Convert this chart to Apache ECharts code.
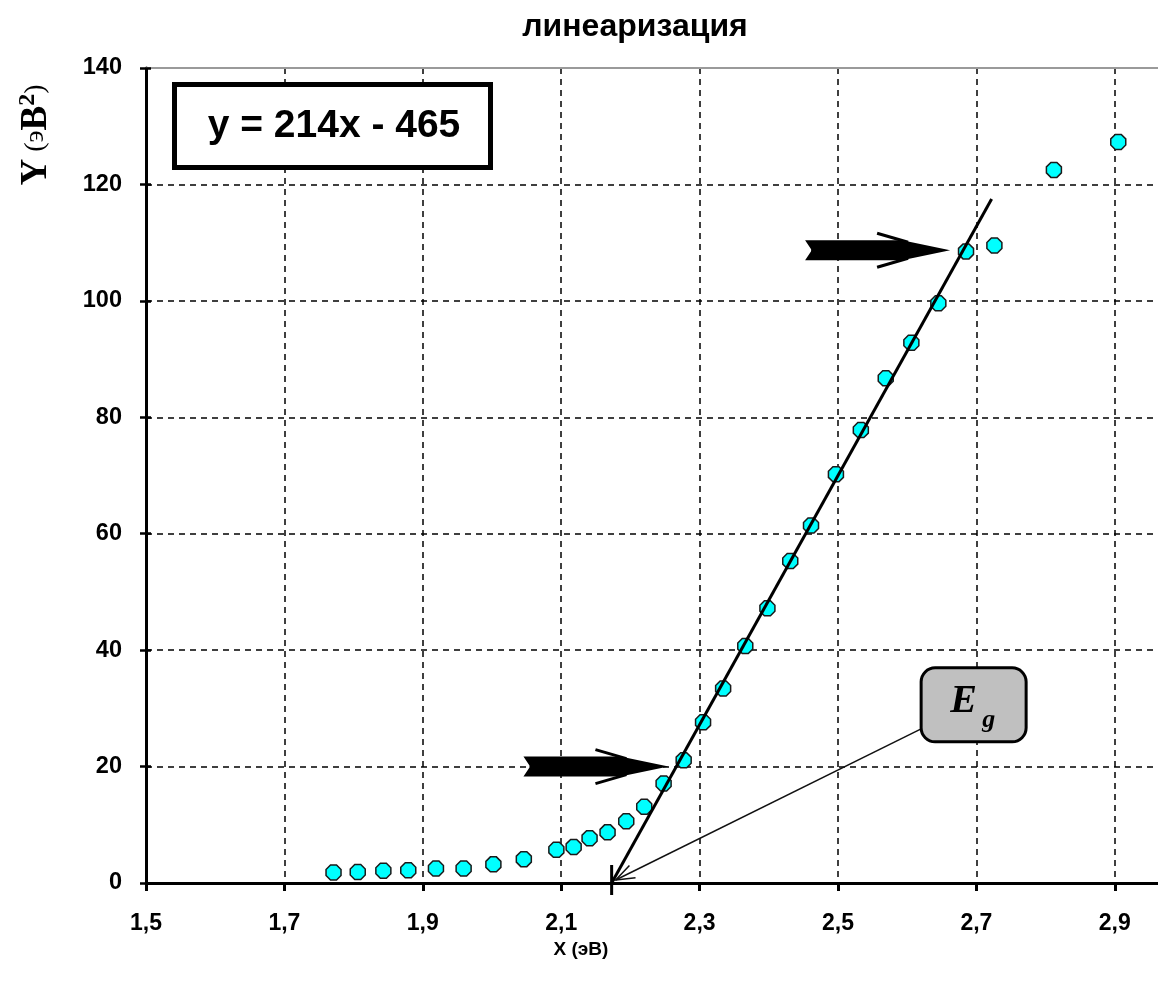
<!DOCTYPE html>
<html>
<head>
<meta charset="utf-8">
<script src="https://cdn.jsdelivr.net/npm/echarts@6/dist/echarts.min.js"></script>
<style>
  html, body { margin: 0; padding: 0; background: #ffffff; }
  #chart { width: 1158px; height: 981px; }
</style>
</head>
<body>
<div id="chart"></div>
<script>
// Photon energy X (eV) and linearised absorption Y (eV^2)
const energyX = [1.771, 1.806, 1.843, 1.879, 1.919, 1.959, 2.002, 2.046, 2.093, 2.118,
                 2.141, 2.167, 2.194, 2.220, 2.248, 2.277, 2.305, 2.334, 2.366, 2.398,
                 2.431, 2.461, 2.497, 2.533, 2.569, 2.606, 2.645, 2.685, 2.726, 2.812, 2.905];
const valuesY = [1.8, 1.9, 2.1, 2.2, 2.5, 2.5, 3.2, 4.1, 5.7, 6.2,
                 7.7, 8.7, 10.6, 13.1, 17.1, 21.1, 27.6, 33.4, 40.7, 47.2,
                 55.3, 61.4, 70.2, 77.8, 86.7, 92.8, 99.6, 108.5, 109.5, 122.5, 127.3];

// Linear fit y = 214x - 465 drawn over the straight part
const fitSlope = 214;
const fitIntercept = -465;
const fitEndX = 2.722;

// Axis ranges and tick spacing
const xRange = [1.5, 3.0];
const xStep = 0.2;
const yRange = [0, 140];
const yStep = 20;

// Fit range bounds marked by the block arrows (tips)
const upperArrowTip = [2.662, 108.7];
const lowerArrowTip = [2.255, 20.0];

// Eg label box centre (data coordinates)
const egBoxCentre = [2.696, 30.6];

const titleText = 'линеаризация';
const equationText = 'y = 214x - 465';
const xTitle = 'X (эВ)';

const gapEnergy = -fitIntercept / fitSlope;
const fitPoints = [[gapEnergy, 0], [fitEndX, fitSlope * fitEndX + fitIntercept]];
const scatterData = energyX.map((x, i) => [x, valuesY[i]]);

const chart = echarts.init(document.getElementById('chart'), null, { renderer: 'canvas' });

const sans = '"Liberation Sans", Arial, sans-serif';
const serif = '"Liberation Serif", "Times New Roman", serif';
const comma = v => v.toFixed(1).replace('.', ',');

chart.setOption({
  animation: false,
  backgroundColor: '#ffffff',
  grid: { left: 146, right: -26, top: 68, bottom: 98, outerBoundsMode: 'none', containLabel: false },
  xAxis: [{
    type: 'value', min: xRange[0], max: xRange[1], interval: xStep,
    axisLine: { lineStyle: { color: '#000', width: 3 } },
    axisTick: { length: 8, lineStyle: { color: '#000', width: 3 } },
    axisLabel: {
      formatter: v => (v > 2.95 ? '' : comma(v)),
      color: '#000', fontFamily: sans, fontWeight: 'bold', fontSize: 23, margin: 29
    },
    splitLine: { show: true, showMinLine: false, lineStyle: { color: '#000', width: 1.5, type: [6, 5] } }
  }, {
    type: 'value', position: 'top', min: xRange[0], max: xRange[1], interval: xStep,
    axisLine: { onZero: false, lineStyle: { color: '#9a9a9a', width: 2 } },
    axisTick: { show: false }, axisLabel: { show: false }, splitLine: { show: false }
  }],
  yAxis: [{
    type: 'value', min: yRange[0], max: yRange[1], interval: yStep,
    axisLine: { show: true, onZero: false, lineStyle: { color: '#000', width: 3 } },
    axisTick: { show: true, length: 6, lineStyle: { color: '#000', width: 2.5 } },
    axisLabel: { color: '#000', fontFamily: sans, fontWeight: 'bold', fontSize: 23.5, margin: 24 },
    splitLine: { show: true, showMinLine: false, showMaxLine: false,
                 lineStyle: { color: '#000', width: 1.5, type: [6, 5] } }
  }, {
    type: 'value', position: 'left', min: yRange[0], max: yRange[1], interval: yStep,
    axisLine: { show: false },
    axisTick: { show: true, inside: true, length: 5, lineStyle: { color: '#000', width: 2.5 } },
    axisLabel: { show: false }, splitLine: { show: false }
  }],
  series: [{
    type: 'scatter',
    data: scatterData,
    symbol: 'path://M3,0 L7,0 L10,3 L10,7 L7,10 L3,10 L0,7 L0,3 Z',
    symbolSize: 15,
    itemStyle: { color: '#00ffff', borderColor: '#1a1a1a', borderWidth: 1.5, opacity: 1 },
    z: 2
  }, {
    type: 'line',
    data: fitPoints,
    symbol: 'none',
    lineStyle: { color: '#000', width: 3 },
    z: 3
  }]
});

const toPx = p => chart.convertToPixel({ xAxisIndex: 0, yAxisIndex: 0 }, p);

function blockArrow(tip) {
  const [tx, ty] = toPx(tip);
  const tail = tx - 145;
  return [{
    type: 'polygon', z: 10,
    shape: { points: [[tail, ty - 10], [tx - 48, ty - 10], [tx, ty], [tx - 48, ty + 10],
                      [tail, ty + 10], [tail + 6, ty + 1], [tail + 6, ty - 1]] },
    style: { fill: '#000' }
  }, {
    type: 'polyline', z: 10,
    shape: { points: [[tx - 73, ty - 17], [tx - 42, ty - 8]] },
    style: { stroke: '#000', lineWidth: 3, fill: null }
  }, {
    type: 'polyline', z: 10,
    shape: { points: [[tx - 73, ty + 17], [tx - 42, ty + 8]] },
    style: { stroke: '#000', lineWidth: 3, fill: null }
  }];
}

const gapPx = toPx([gapEnergy, 0]);
const boxC = toPx(egBoxCentre);
const boxW = 105, boxH = 74;
const boxCorner = [boxC[0] - boxW / 2, boxC[1] + 24];
const tipPt = [gapPx[0] + 4, gapPx[1] - 3];
const ang = Math.atan2(boxCorner[1] - tipPt[1], boxCorner[0] - tipPt[0]);
const headLen = 20, headSpread = 0.35;
const head1 = [tipPt[0] + headLen * Math.cos(ang + headSpread), tipPt[1] + headLen * Math.sin(ang + headSpread)];
const head2 = [tipPt[0] + headLen * Math.cos(ang - headSpread), tipPt[1] + headLen * Math.sin(ang - headSpread)];

const graphics = [
  // title
  { type: 'text', x: 635, y: 27, z: 10,
    style: { text: titleText, font: 'bold 32px ' + sans, fill: '#000', align: 'center', verticalAlign: 'middle' } },
  // x axis title
  { type: 'text', x: 581, y: 950, z: 10,
    style: { text: xTitle, font: 'bold 19px ' + sans, fill: '#000', align: 'center', verticalAlign: 'middle' } },
  // y axis title, rotated
  { type: 'text', x: 36, y: 135, rotation: Math.PI / 2, z: 10,
    style: {
      text: '{a|Y}{p| (э}{b|B}{s|2}{p|)}', align: 'center', verticalAlign: 'middle',
      rich: {
        a: { fontFamily: serif, fontWeight: 'bold', fontSize: 37, fill: '#000', lineHeight: 40 },
        p: { fontFamily: serif, fontSize: 28, fill: '#000', lineHeight: 40 },
        b: { fontFamily: serif, fontWeight: 'bold', fontSize: 37, fill: '#000', lineHeight: 40 },
        s: { fontFamily: serif, fontWeight: 'bold', fontSize: 24, fill: '#000', verticalAlign: 'top', lineHeight: 40 }
      }
    } },
  // regression equation box
  { type: 'rect', z: 10, shape: { x: 174.5, y: 84.5, width: 316, height: 83 },
    style: { fill: '#fff', stroke: '#000', lineWidth: 5 } },
  { type: 'text', x: 334, y: 126, z: 11,
    style: { text: equationText, font: 'bold 39px ' + sans, fill: '#000', align: 'center', verticalAlign: 'middle' } },
  // Eg marker on the energy axis
  { type: 'line', z: 10, shape: { x1: gapPx[0], y1: gapPx[1] - 18, x2: gapPx[0], y2: gapPx[1] + 12 },
    style: { stroke: '#000', lineWidth: 3 } },
  // pointer from Eg box to the intercept
  { type: 'line', z: 10, shape: { x1: boxCorner[0], y1: boxCorner[1], x2: tipPt[0], y2: tipPt[1] },
    style: { stroke: '#111', lineWidth: 1.5 } },
  { type: 'polyline', z: 10, shape: { points: [head1, tipPt, head2] },
    style: { stroke: '#111', lineWidth: 1.5, fill: null } },
  // Eg box
  { type: 'rect', z: 10,
    shape: { x: boxC[0] - boxW / 2, y: boxC[1] - boxH / 2, width: boxW, height: boxH, r: 14 },
    style: { fill: '#c0c0c0', stroke: '#000', lineWidth: 3 } },
  { type: 'text', x: boxC[0] - 10, y: boxC[1] - 3, z: 11,
    style: { text: 'E', font: 'italic bold 40px ' + serif, fill: '#000', align: 'center', verticalAlign: 'middle' } },
  { type: 'text', x: boxC[0] + 15, y: boxC[1] + 15, z: 11,
    style: { text: 'g', font: 'italic bold 26px ' + serif, fill: '#000', align: 'center', verticalAlign: 'middle' } }
].concat(blockArrow(upperArrowTip), blockArrow(lowerArrowTip));

chart.setOption({ graphic: graphics });
</script>
</body>
</html>
